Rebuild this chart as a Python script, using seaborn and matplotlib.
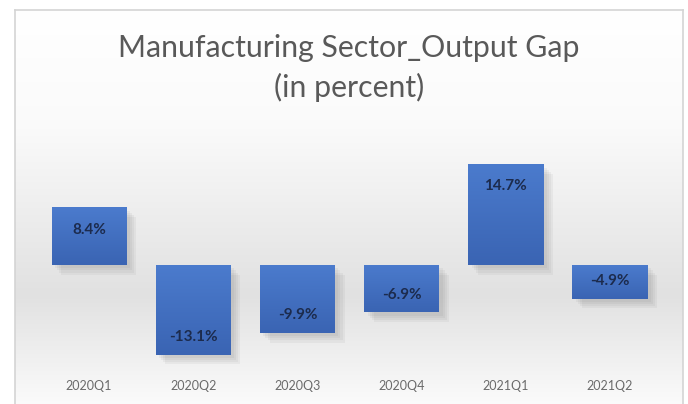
import numpy as np
import pandas as pd
import matplotlib
matplotlib.use("Agg")
import matplotlib.pyplot as plt
import seaborn as sns
from matplotlib import patheffects as pe
from matplotlib.colors import LinearSegmentedColormap

quarters = ["2020Q1", "2020Q2", "2020Q3", "2020Q4", "2021Q1", "2021Q2"]
gap = [8.4, -13.1, -9.9, -6.9, 14.7, -4.9]
value_labels = ["8.4%", "-13.1%", "-9.9%", "-6.9%", "14.7%", "-4.9%"]
title_line1 = "Manufacturing Sector_Output Gap"
title_line2 = "(in percent)"

sns.set_theme(style="white")
plt.rcParams['font.family'] = ['Lato', 'DejaVu Sans']

W, H = 688, 404
fig = plt.figure(figsize=(W / 100, H / 100), dpi=100)
fig.patch.set_facecolor('white')


def fr(x0, y0, x1, y1):
    return [x0 / W, 1 - y1 / H, (x1 - x0) / W, (y1 - y0) / H]


# background panel with vertical gradient and thin border
bg = fig.add_axes(fr(15, 10, 683, 406), zorder=0)
cmap_bg = LinearSegmentedColormap.from_list(
    'bg', [(0, '#ffffff'), (0.3, '#fafafa'), (0.72, '#e1e1e1'), (1, '#fbfbfb')])
bg.imshow(np.linspace(0, 1, 256).reshape(-1, 1), aspect='auto', cmap=cmap_bg,
          extent=[0, 1, 0, 1], origin='upper')
bg.set_xticks([]); bg.set_yticks([])
for s in ['left', 'top', 'right']:
    bg.spines[s].set_color('#d4d4d4'); bg.spines[s].set_linewidth(1.2)
bg.spines['bottom'].set_visible(False)

# main bar axes
ax = fig.add_axes(fr(37, 145, 662, 365), zorder=1)
ax.patch.set_alpha(0)
df = pd.DataFrame({'quarter': quarters, 'gap': gap})
sns.barplot(data=df, x='quarter', y='gap', color='#4472c4', width=0.72,
            saturation=1, ax=ax)

bar_cmap = LinearSegmentedColormap.from_list('bar', ['#4b7bcd', '#3a64b3'])
grad = np.linspace(0, 1, 128).reshape(-1, 1)
shadow = [pe.SimplePatchShadow(offset=(d, -d), shadow_rgbFace='#6a6a6a', alpha=0.07)
          for d in (7, 5.5, 4, 2.5)]
for patch, val, lab in zip(ax.patches, gap, value_labels):
    patch.set_edgecolor('none')
    patch.set_path_effects(shadow + [pe.Normal()])
    x0 = patch.get_x(); w = patch.get_width()
    y0 = min(0, val); y1 = max(0, val)
    im = ax.imshow(grad, extent=[x0, x0 + w, y0, y1], cmap=bar_cmap, aspect='auto',
                   origin='upper', zorder=patch.get_zorder() + 0.1)
    im.set_clip_path(patch)
    cx = x0 + w / 2
    off = -16 if val > 0 else 12.5
    ax.annotate(lab, (cx, val), xytext=(0, off), textcoords='offset points',
                ha='center', va='center', fontsize=11, fontweight='bold',
                color='#1c2b4d', zorder=5)

ax.set_xlim(-0.5, 5.5)
ax.set_ylim(-14.6, 17.5)
ax.set_yticks([])
ax.set_xlabel(''); ax.set_ylabel('')
for s in ax.spines.values():
    s.set_visible(False)
ax.tick_params(axis='x', length=0, pad=11, labelsize=9, labelcolor='#6a6a6a')

# title, fitted to reference width
t1 = fig.text(349 / W, 1 - 57 / H, title_line1, ha='center', va='baseline',
              fontsize=20, color='#595959')
t2 = fig.text(349 / W, 1 - 97 / H, title_line2, ha='center', va='baseline',
              fontsize=20, color='#595959')
fig.canvas.draw()
r = fig.canvas.get_renderer()
wpx = t1.get_window_extent(r).width
fs = 20 * 463 / wpx
t1.set_fontsize(fs); t2.set_fontsize(fs)

fig.savefig('out.png', dpi=100)
